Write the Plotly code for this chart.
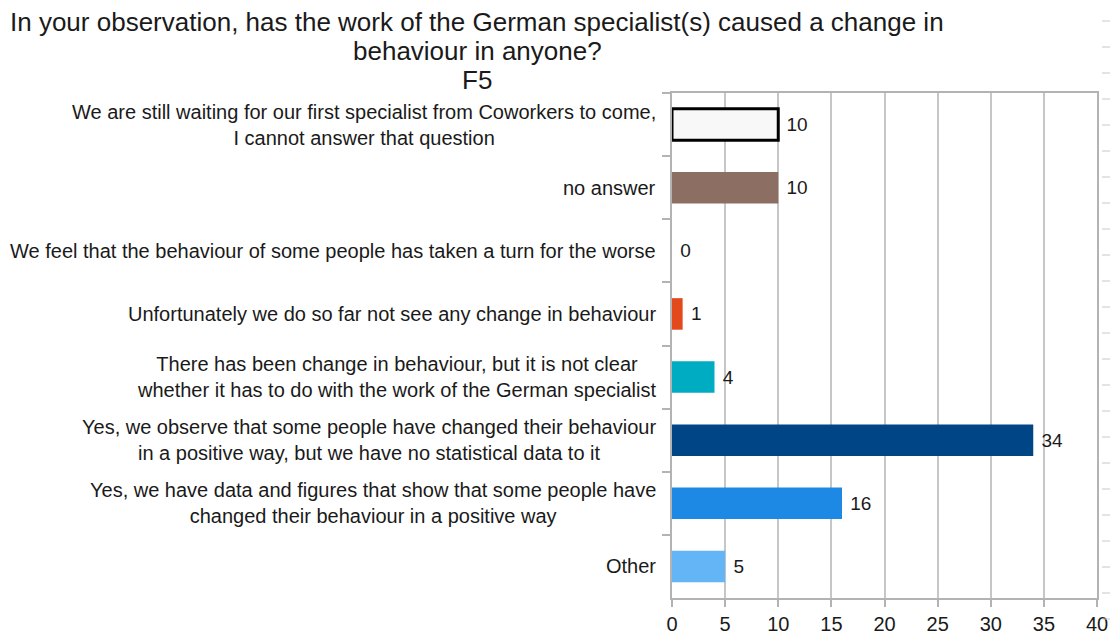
import plotly.graph_objects as go

# Survey question F5: answer options (top to bottom) and response counts
answers = [
    "We are still waiting for our first specialist from Coworkers to come,<br>I cannot answer that question",
    "no answer",
    "We feel that the behaviour of some people has taken a turn for the worse",
    "Unfortunately we do so far not see any change in behaviour",
    "There has been change in behaviour, but it is not clear<br>whether it has to do with the work of the German specialist",
    "Yes, we observe that some people have changed their behaviour<br>in a positive way, but we have no statistical data to it",
    "Yes, we have data and figures that show that some people have<br>changed their behaviour in a positive way",
    "Other",
]
counts = [10, 10, 0, 1, 4, 34, 16, 5]
bar_colors = ["#f8f8f8", "#8d6e63", "#7e57c2", "#e4491c", "#00acc1", "#004586", "#1e88e5", "#64b5f6"]
outline_widths = [3, 0, 0, 0, 0, 0, 0, 0]
x_ticks = [0, 5, 10, 15, 20, 25, 30, 35, 40]
title_lines = [
    "In your observation, has the work of the German specialist(s) caused a change in",
    "behaviour in anyone?",
    "F5",
]

FONT = "Liberation Sans"
TEXT = "#1a1a1a"
GRID = "#c6c6c6"
AXIS = "#b3b3b3"
LABEL_SIZE = 20

# plot-area pixel box inside the 1114x634 page
W, H = 1114, 634
L, R, T, B = 672, 17, 93, 36
PW, PH = W - L - R, H - T - B


def px_to_paper(px, py):
    return (px - L) / PW, (H - B - py) / PH


fig = go.Figure(
    go.Bar(
        x=counts,
        y=answers,
        orientation="h",
        marker=dict(color=bar_colors, line=dict(color="#000000", width=outline_widths)),
        text=[" " + str(c) for c in counts],
        textposition="outside",
        textfont=dict(family=FONT, size=LABEL_SIZE - 1, color=TEXT),
        cliponaxis=False,
        width=0.5,
    )
)

# Category labels: right-aligned block, lines centred on each other
for label in answers:
    fig.add_annotation(
        x=0, xref="paper", xanchor="right", xshift=-14,
        y=label, yref="y", yanchor="middle",
        text=label, showarrow=False, align="center",
        font=dict(family=FONT, size=LABEL_SIZE, color=TEXT),
    )

# Three-line heading
for i, line in enumerate(title_lines):
    tx, ty = px_to_paper(477, 22 + 29 * i)
    fig.add_annotation(
        x=tx, xref="paper", xanchor="center",
        y=ty, yref="paper", yanchor="middle",
        text=line, showarrow=False,
        font=dict(family=FONT, size=26, color=TEXT),
    )

# Column of small dashes down the right-hand edge
for k in range(24):
    x0, y0 = px_to_paper(1102, 21 + 26 * k)
    x1, _ = px_to_paper(1110, 0)
    fig.add_shape(type="line", xref="paper", yref="paper",
                  x0=x0, x1=x1, y0=y0, y1=y0,
                  line=dict(color="#c8c8c8", width=1))

fig.update_layout(
    width=W, height=H,
    margin=dict(l=L, r=R, t=T, b=B, autoexpand=False),
    paper_bgcolor="white", plot_bgcolor="white",
    showlegend=False,
    font=dict(family=FONT, color=TEXT),
)
fig.update_xaxes(
    range=[0, 40], tickvals=x_ticks, ticktext=[str(t) for t in x_ticks],
    showgrid=True, gridcolor=GRID, gridwidth=1.5,
    showline=True, linecolor=AXIS, linewidth=1.5, mirror=True,
    ticks="outside", ticklen=7, tickcolor=AXIS, tickwidth=1.5,
    tickfont=dict(family=FONT, size=LABEL_SIZE, color=TEXT),
    zeroline=False, fixedrange=True, automargin=False,
)
fig.update_yaxes(
    autorange="reversed", showticklabels=False,
    showline=True, linecolor=AXIS, linewidth=1.5, mirror=True,
    ticks="outside", ticklen=8, tickcolor=AXIS, tickwidth=1.5, tickson="boundaries",
    showgrid=False, fixedrange=True, automargin=False,
)

fig.write_html("out.html")
